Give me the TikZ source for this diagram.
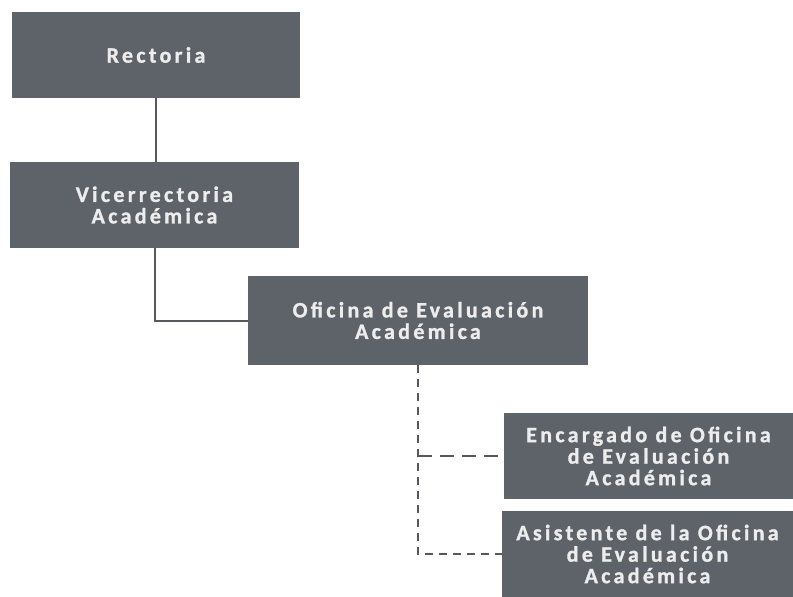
\documentclass[tikz,border=0pt]{standalone}
\usepackage{fontspec}
\setmainfont{Carlito}[LetterSpace=15,BoldFeatures={FakeBold=1.2}]
\definecolor{boxgray}{HTML}{5E6269}
\definecolor{txtgray}{HTML}{EDEDED}
\definecolor{linegray}{HTML}{55585E}
\begin{document}
\begin{tikzpicture}[x=1pt,y=-1pt,
  orgbox/.style={draw=none,fill=boxgray,rectangle,inner sep=0pt,
    text=txtgray,font=\fontsize{22}{21.5}\selectfont\bfseries,align=center,
    minimum height=86pt},
  solidcon/.style={draw=linegray,line width=2pt},
  dashcon/.style={draw=linegray,line width=2.6pt,dash pattern=on 8pt off 6pt}]
\useasboundingbox (0,0) rectangle (793,597);
\node[orgbox,minimum width=288pt] (r) at (156,55) {Rectoria};
\node[orgbox,minimum width=289pt] (v) at (154.5,205) {Vicerrectoria\\Académica};
\node[orgbox,minimum width=340pt,minimum height=89pt] (o) at (418,320.5) {Oficina de Evaluación\\Académica};
\node[orgbox,minimum width=289pt] (e) at (648.5,456) {Encargado de Oficina\\de Evaluación\\Académica};
\node[orgbox,minimum width=291pt] (a) at (647.5,554) {Asistente de la Oficina\\de Evaluación\\Académica};
\draw[solidcon] (r.south) -- (r.south |- v.north);
\draw[solidcon] (v.south) |- (o.west);
\draw[dashcon] (o.south) |- (a.west);
\draw[dashcon,dash pattern=on 14pt off 8pt] (o.south |- e.west) -- (e.west);
\end{tikzpicture}
\end{document}
